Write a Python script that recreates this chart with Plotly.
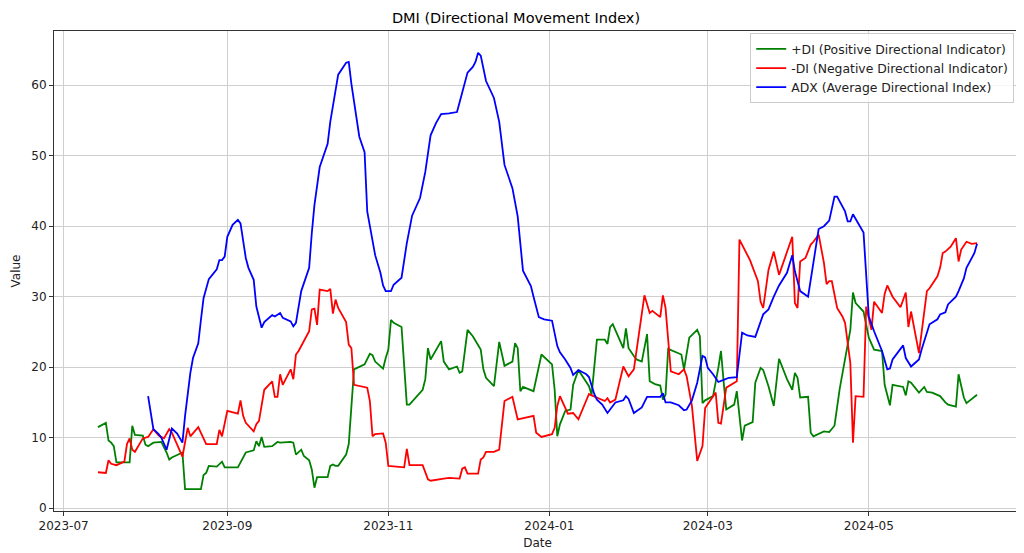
import plotly.graph_objects as go

# +DI
pdi_dates = [
    '2023-07-14', '2023-07-17', '2023-07-18', '2023-07-19', '2023-07-20', '2023-07-21', '2023-07-26', '2023-07-27',
    '2023-07-28', '2023-07-31', '2023-08-01', '2023-08-02', '2023-08-04', '2023-08-07', '2023-08-09', '2023-08-10',
    '2023-08-11', '2023-08-15', '2023-08-16', '2023-08-22', '2023-08-23', '2023-08-24', '2023-08-25', '2023-08-28',
    '2023-08-30', '2023-08-31', '2023-09-05', '2023-09-08', '2023-09-11', '2023-09-12', '2023-09-13', '2023-09-14',
    '2023-09-15', '2023-09-18', '2023-09-20', '2023-09-21', '2023-09-25', '2023-09-26', '2023-09-27', '2023-09-29',
    '2023-09-30', '2023-10-02', '2023-10-03', '2023-10-04', '2023-10-05', '2023-10-09', '2023-10-10', '2023-10-11',
    '2023-10-12', '2023-10-13', '2023-10-16', '2023-10-17', '2023-10-19', '2023-10-20', '2023-10-23', '2023-10-25',
    '2023-10-26', '2023-10-27', '2023-10-30', '2023-10-31', '2023-11-01', '2023-11-02', '2023-11-03', '2023-11-06',
    '2023-11-08', '2023-11-09', '2023-11-14', '2023-11-15', '2023-11-16', '2023-11-17', '2023-11-19', '2023-11-21',
    '2023-11-22', '2023-11-24', '2023-11-27', '2023-11-28', '2023-11-29', '2023-12-01', '2023-12-03', '2023-12-06',
    '2023-12-07', '2023-12-08', '2023-12-11', '2023-12-13', '2023-12-15', '2023-12-18', '2023-12-19', '2023-12-20',
    '2023-12-21', '2023-12-22', '2023-12-26', '2023-12-29', '2024-01-02', '2024-01-03', '2024-01-04', '2024-01-05',
    '2024-01-07', '2024-01-09', '2024-01-10', '2024-01-12', '2024-01-16', '2024-01-17', '2024-01-19', '2024-01-22',
    '2024-01-23', '2024-01-24', '2024-01-25', '2024-01-29', '2024-01-30', '2024-01-31', '2024-02-02', '2024-02-03',
    '2024-02-05', '2024-02-07', '2024-02-08', '2024-02-10', '2024-02-12', '2024-02-13', '2024-02-14', '2024-02-15',
    '2024-02-20', '2024-02-21', '2024-02-23', '2024-02-26', '2024-02-27', '2024-02-28', '2024-02-29', '2024-03-03',
    '2024-03-05', '2024-03-06', '2024-03-07', '2024-03-08', '2024-03-11', '2024-03-12', '2024-03-14', '2024-03-15',
    '2024-03-18', '2024-03-19', '2024-03-21', '2024-03-22', '2024-03-24', '2024-03-26', '2024-03-28', '2024-03-31',
    '2024-04-02', '2024-04-03', '2024-04-04', '2024-04-05', '2024-04-08', '2024-04-09', '2024-04-10', '2024-04-14',
    '2024-04-16', '2024-04-18', '2024-04-20', '2024-04-22', '2024-04-24', '2024-04-25', '2024-04-26', '2024-04-29',
    '2024-05-01', '2024-05-03', '2024-05-06', '2024-05-07', '2024-05-09', '2024-05-10', '2024-05-14', '2024-05-15',
    '2024-05-16', '2024-05-17', '2024-05-20', '2024-05-22', '2024-05-23', '2024-05-25', '2024-05-28', '2024-05-30',
    '2024-05-31', '2024-06-03', '2024-06-04', '2024-06-06', '2024-06-07', '2024-06-11',
]
pdi_vals = [
    11.5, 12.1, 9.6, 9.3, 8.8, 6.5, 6.5, 11.7,
    10.4, 10.3, 9.0, 8.8, 9.3, 9.4, 7.9, 6.9,
    7.2, 7.9, 2.7, 2.7, 4.7, 5.0, 6.0, 5.9,
    6.6, 5.8, 5.8, 7.9, 8.2, 9.5, 8.8, 10.1,
    8.7, 8.8, 9.4, 9.3, 9.4, 9.3, 7.6, 8.3,
    7.4, 6.8, 5.5, 2.9, 4.4, 4.4, 6.0, 6.2,
    6.0, 6.0, 7.6, 9.1, 19.7, 19.9, 20.4, 21.9,
    21.7, 20.8, 19.8, 21.3, 22.5, 26.7, 26.3, 25.7,
    14.7, 14.7, 16.8, 18.3, 22.7, 21.1, 22.3, 23.7,
    20.8, 19.7, 20.1, 19.2, 19.4, 25.3, 24.4, 22.5,
    19.7, 18.5, 17.3, 23.6, 20.2, 20.8, 23.4, 22.7,
    16.6, 17.2, 16.6, 21.8, 20.4, 16.8, 10.2, 11.9,
    13.8, 14.0, 17.5, 19.6, 17.3, 16.1, 23.9, 23.9,
    23.3, 25.7, 26.1, 22.7, 25.5, 22.7, 21.6, 21.1,
    20.8, 24.7, 18.0, 17.6, 17.4, 15.4, 16.1, 22.6,
    21.8, 19.7, 24.2, 25.3, 24.4, 14.9, 15.3, 15.9,
    19.9, 22.3, 18.0, 14.0, 14.7, 16.6, 9.6, 11.7,
    12.2, 17.8, 19.9, 19.6, 17.3, 14.5, 21.2, 18.3,
    16.8, 19.2, 18.5, 15.7, 15.8, 10.7, 10.2, 10.9,
    10.8, 11.7, 17.0, 21.1, 25.3, 30.6, 29.1, 27.9,
    24.2, 22.5, 22.3, 17.5, 14.6, 17.5, 17.2, 16.0,
    18.0, 17.8, 16.4, 17.2, 16.5, 16.4, 15.9, 15.0,
    14.7, 14.4, 19.0, 15.7, 14.9, 16.1,
]

# -DI
ndi_dates = [
    '2023-07-14', '2023-07-17', '2023-07-18', '2023-07-19', '2023-07-21', '2023-07-24', '2023-07-25', '2023-07-26',
    '2023-07-27', '2023-07-28', '2023-07-31', '2023-08-02', '2023-08-04', '2023-08-06', '2023-08-08', '2023-08-10',
    '2023-08-11', '2023-08-13', '2023-08-15', '2023-08-17', '2023-08-18', '2023-08-21', '2023-08-22', '2023-08-24',
    '2023-08-28', '2023-08-29', '2023-08-30', '2023-09-01', '2023-09-05', '2023-09-06', '2023-09-07', '2023-09-08',
    '2023-09-11', '2023-09-12', '2023-09-13', '2023-09-15', '2023-09-18', '2023-09-19', '2023-09-20', '2023-09-21',
    '2023-09-22', '2023-09-25', '2023-09-26', '2023-09-27', '2023-09-28', '2023-10-02', '2023-10-03', '2023-10-04',
    '2023-10-05', '2023-10-06', '2023-10-09', '2023-10-10', '2023-10-11', '2023-10-12', '2023-10-13', '2023-10-16',
    '2023-10-17', '2023-10-18', '2023-10-19', '2023-10-24', '2023-10-25', '2023-10-26', '2023-10-27', '2023-10-30',
    '2023-10-31', '2023-11-01', '2023-11-07', '2023-11-08', '2023-11-09', '2023-11-14', '2023-11-16', '2023-11-17',
    '2023-11-22', '2023-11-24', '2023-11-28', '2023-11-29', '2023-11-30', '2023-12-01', '2023-12-05', '2023-12-06',
    '2023-12-07', '2023-12-08', '2023-12-11', '2023-12-13', '2023-12-15', '2023-12-18', '2023-12-20', '2023-12-25',
    '2023-12-26', '2023-12-27', '2023-12-29', '2024-01-02', '2024-01-03', '2024-01-04', '2024-01-05', '2024-01-08',
    '2024-01-10', '2024-01-12', '2024-01-16', '2024-01-17', '2024-01-22', '2024-01-23', '2024-01-24', '2024-01-26',
    '2024-01-29', '2024-01-31', '2024-02-02', '2024-02-06', '2024-02-08', '2024-02-09', '2024-02-12', '2024-02-13',
    '2024-02-14', '2024-02-16', '2024-02-19', '2024-02-21', '2024-02-22', '2024-02-24', '2024-02-26', '2024-02-28',
    '2024-02-29', '2024-03-04', '2024-03-05', '2024-03-06', '2024-03-08', '2024-03-12', '2024-03-13', '2024-03-17',
    '2024-03-19', '2024-03-20', '2024-03-21', '2024-03-22', '2024-03-24', '2024-03-26', '2024-03-28', '2024-03-31',
    '2024-04-02', '2024-04-03', '2024-04-04', '2024-04-05', '2024-04-07', '2024-04-09', '2024-04-10', '2024-04-12',
    '2024-04-14', '2024-04-15', '2024-04-16', '2024-04-17', '2024-04-19', '2024-04-21', '2024-04-22', '2024-04-24',
    '2024-04-25', '2024-04-26', '2024-04-29', '2024-04-30', '2024-05-02', '2024-05-03', '2024-05-06', '2024-05-07',
    '2024-05-08', '2024-05-10', '2024-05-13', '2024-05-15', '2024-05-16', '2024-05-17', '2024-05-20', '2024-05-23',
    '2024-05-24', '2024-05-27', '2024-05-28', '2024-05-29', '2024-05-30', '2024-06-01', '2024-06-03', '2024-06-04',
    '2024-06-05', '2024-06-07', '2024-06-09', '2024-06-11',
]
ndi_vals = [
    5.1, 5.0, 6.8, 6.3, 6.1, 6.6, 9.1, 9.9,
    8.3, 8.0, 9.9, 10.1, 11.2, 10.3, 9.9, 11.2,
    10.7, 8.9, 7.3, 11.4, 10.2, 11.5, 10.7, 9.1,
    9.1, 11.1, 10.2, 13.8, 13.4, 15.3, 13.1, 12.1,
    10.9, 11.9, 12.4, 16.8, 18.0, 15.8, 15.8, 19.0,
    17.5, 19.7, 18.3, 21.8, 22.3, 25.1, 28.2, 28.3,
    26.0, 31.0, 30.8, 31.1, 27.6, 29.6, 28.4, 26.4,
    23.2, 22.7, 17.5, 17.1, 15.2, 10.2, 10.5, 10.6,
    9.3, 6.0, 5.8, 8.4, 6.1, 6.1, 4.1, 3.9,
    4.2, 4.3, 4.2, 5.6, 5.8, 4.9, 4.9, 6.9,
    7.2, 8.0, 8.0, 8.3, 15.2, 15.8, 12.6, 13.1,
    13.1, 10.7, 10.1, 10.5, 11.4, 14.5, 15.9, 13.4,
    13.5, 12.6, 16.2, 16.0, 15.2, 15.6, 15.0, 15.4,
    20.1, 18.7, 19.7, 30.2, 27.7, 28.0, 27.1, 30.2,
    28.4, 19.4, 19.0, 19.7, 18.7, 14.5, 6.7, 8.8,
    14.2, 16.4, 12.1, 12.0, 17.1, 18.0, 38.1, 35.2,
    33.1, 32.2, 29.3, 28.4, 33.8, 36.4, 33.1, 36.2,
    38.5, 29.1, 28.4, 35.0, 35.5, 37.4, 37.8, 38.8,
    34.8, 31.8, 32.2, 32.2, 28.4, 27.2, 26.3, 20.6,
    9.3, 15.9, 15.8, 28.6, 25.3, 29.3, 27.7, 30.4,
    31.6, 30.0, 28.5, 30.6, 25.7, 27.9, 22.0, 30.8,
    31.2, 32.9, 34.1, 36.2, 36.4, 37.1, 38.3, 35.0,
    36.7, 37.8, 37.5, 37.6,
]

# ADX
adx_dates = [
    '2023-08-02', '2023-08-04', '2023-08-06', '2023-08-07', '2023-08-09', '2023-08-11', '2023-08-13', '2023-08-15',
    '2023-08-16', '2023-08-18', '2023-08-19', '2023-08-21', '2023-08-22', '2023-08-23', '2023-08-25', '2023-08-28',
    '2023-08-29', '2023-08-30', '2023-08-31', '2023-09-01', '2023-09-03', '2023-09-05', '2023-09-06', '2023-09-08',
    '2023-09-09', '2023-09-11', '2023-09-12', '2023-09-14', '2023-09-15', '2023-09-18', '2023-09-19', '2023-09-21',
    '2023-09-22', '2023-09-24', '2023-09-25', '2023-09-26', '2023-09-27', '2023-09-29', '2023-10-02', '2023-10-03',
    '2023-10-04', '2023-10-06', '2023-10-09', '2023-10-10', '2023-10-13', '2023-10-16', '2023-10-17', '2023-10-18',
    '2023-10-20', '2023-10-21', '2023-10-23', '2023-10-24', '2023-10-27', '2023-10-29', '2023-10-30', '2023-10-31',
    '2023-11-02', '2023-11-03', '2023-11-06', '2023-11-08', '2023-11-10', '2023-11-13', '2023-11-15', '2023-11-17',
    '2023-11-19', '2023-11-21', '2023-11-24', '2023-11-27', '2023-11-28', '2023-12-01', '2023-12-03', '2023-12-04',
    '2023-12-05', '2023-12-06', '2023-12-08', '2023-12-11', '2023-12-13', '2023-12-15', '2023-12-18', '2023-12-20',
    '2023-12-22', '2023-12-25', '2023-12-26', '2023-12-28', '2023-12-30', '2024-01-02', '2024-01-04', '2024-01-05',
    '2024-01-07', '2024-01-09', '2024-01-10', '2024-01-12', '2024-01-15', '2024-01-16', '2024-01-18', '2024-01-19',
    '2024-01-21', '2024-01-23', '2024-01-25', '2024-01-26', '2024-01-29', '2024-01-30', '2024-01-31', '2024-02-02',
    '2024-02-05', '2024-02-07', '2024-02-12', '2024-02-13', '2024-02-14', '2024-02-16', '2024-02-19', '2024-02-21',
    '2024-02-22', '2024-02-24', '2024-02-26', '2024-02-28', '2024-02-29', '2024-03-01', '2024-03-03', '2024-03-05',
    '2024-03-07', '2024-03-09', '2024-03-12', '2024-03-14', '2024-03-16', '2024-03-19', '2024-03-22', '2024-03-24',
    '2024-03-26', '2024-03-28', '2024-03-31', '2024-04-02', '2024-04-03', '2024-04-05', '2024-04-08', '2024-04-10',
    '2024-04-12', '2024-04-14', '2024-04-16', '2024-04-18', '2024-04-19', '2024-04-22', '2024-04-23', '2024-04-24',
    '2024-04-25', '2024-04-29', '2024-04-30', '2024-05-01', '2024-05-03', '2024-05-06', '2024-05-08', '2024-05-09',
    '2024-05-10', '2024-05-14', '2024-05-15', '2024-05-17', '2024-05-20', '2024-05-21', '2024-05-24', '2024-05-27',
    '2024-05-28', '2024-05-30', '2024-05-31', '2024-06-03', '2024-06-04', '2024-06-06', '2024-06-07', '2024-06-10',
    '2024-06-11',
]
adx_vals = [
    15.9, 11.2, 10.5, 10.0, 8.3, 11.3, 10.6, 9.3,
    13.1, 19.2, 21.3, 23.4, 26.7, 29.8, 32.5, 33.9,
    35.2, 35.2, 35.7, 38.5, 40.2, 40.9, 40.4, 35.5,
    34.1, 32.4, 28.6, 25.6, 26.4, 27.4, 27.2, 27.7,
    27.0, 26.7, 26.5, 25.8, 26.3, 30.8, 34.1, 39.0,
    43.0, 48.4, 51.7, 54.8, 61.5, 63.2, 63.3, 60.2,
    54.7, 52.7, 50.5, 42.1, 35.9, 33.4, 31.6, 30.8,
    30.8, 31.7, 32.7, 37.6, 41.5, 44.0, 47.7, 52.9,
    54.6, 55.9, 56.0, 56.2, 57.6, 61.8, 62.6, 63.3,
    64.6, 64.2, 60.6, 58.2, 54.8, 48.7, 45.4, 41.4,
    33.7, 31.5, 30.0, 27.1, 26.8, 26.6, 23.0, 22.1,
    21.1, 19.9, 18.9, 19.6, 19.0, 18.6, 16.2, 15.4,
    14.7, 13.5, 14.5, 15.0, 15.3, 15.9, 15.5, 13.5,
    14.3, 15.8, 15.8, 16.3, 15.0, 15.0, 14.6, 13.9,
    14.0, 15.3, 17.8, 21.6, 21.4, 19.9, 19.0, 17.9,
    18.2, 18.5, 18.6, 24.9, 24.5, 24.3, 27.5, 28.2,
    30.0, 31.6, 33.4, 35.9, 33.6, 30.8, 30.0, 34.8,
    39.6, 40.0, 40.8, 44.2, 44.2, 42.1, 40.7, 40.7,
    41.7, 39.1, 33.4, 27.2, 25.1, 22.3, 19.7, 19.8,
    21.1, 23.1, 21.3, 20.1, 21.1, 22.5, 26.1, 26.8,
    27.5, 27.8, 28.9, 30.0, 30.8, 32.6, 34.1, 36.2,
    37.5,
]

tick_dates = ['2023-07-01', '2023-09-01', '2023-11-01', '2024-01-01', '2024-03-01', '2024-05-01']
tick_labels = ['2023-07', '2023-09', '2023-11', '2024-01', '2024-03', '2024-05']

FONT = 'DejaVu Sans, Arial, sans-serif'

fig = go.Figure()
fig.add_trace(go.Scatter(x=pdi_dates, y=pdi_vals, mode='lines', name='+DI (Positive Directional Indicator)',
                         line=dict(color='green', width=1.8)))
fig.add_trace(go.Scatter(x=ndi_dates, y=ndi_vals, mode='lines', name='-DI (Negative Directional Indicator)',
                         line=dict(color='red', width=1.8)))
fig.add_trace(go.Scatter(x=adx_dates, y=adx_vals, mode='lines', name='ADX (Average Directional Index)',
                         line=dict(color='blue', width=1.8)))

# page body has an 8px margin, so the figure is a bit smaller than the window
fig.update_layout(
    width=1016, height=545,
    title=dict(text='DMI (Directional Movement Index)', x=0.5, xanchor='center', y=0.982, yanchor='middle',
               font=dict(size=14.5, color='black', family=FONT)),
    font=dict(family=FONT, size=12, color='black'),
    plot_bgcolor='white', paper_bgcolor='white',
    margin=dict(l=46, r=3, t=23, b=42),
    showlegend=True,
    legend=dict(x=0.993, xanchor='right', y=0.995, yanchor='top',
                bgcolor='rgba(255,255,255,0.8)', bordercolor='#cccccc', borderwidth=1,
                font=dict(size=12.4, color='#222222', family=FONT), itemwidth=30,
                tracegroupgap=0),
    xaxis=dict(
        range=['2023-06-27 08:24', '2024-06-27 15:36'],
        tickvals=tick_dates, ticktext=tick_labels,
        showgrid=True, gridcolor='#cfcfcf', gridwidth=1,
        showline=True, linecolor='#333333', linewidth=1, mirror=True,
        ticks='outside', ticklen=4, tickcolor='#333333',
        tickfont=dict(size=12, color='#222222'),
        title=dict(text='Date', font=dict(size=12, color='#222222'), standoff=6),
        zeroline=False,
    ),
    yaxis=dict(
        range=[-0.4, 67.7],
        tickvals=[0, 10, 20, 30, 40, 50, 60],
        showgrid=True, gridcolor='#cfcfcf', gridwidth=1,
        showline=True, linecolor='#333333', linewidth=1, mirror=True,
        ticks='outside', ticklen=4, tickcolor='#333333',
        tickfont=dict(size=12, color='#222222'),
        title=dict(text='Value', font=dict(size=12, color='#222222'), standoff=8),
        zeroline=False,
    ),
)

fig.write_html("out.html")
